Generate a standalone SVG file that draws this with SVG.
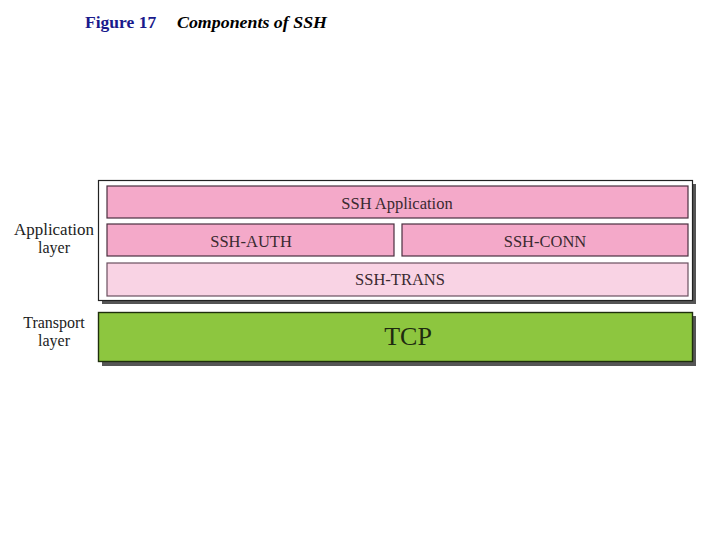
<svg xmlns="http://www.w3.org/2000/svg" width="720" height="540" viewBox="0 0 720 540">
<style>
.lbl{font-family:"Liberation Serif","Times New Roman",serif;font-size:16px;fill:#222;text-anchor:middle}
.pk{fill:#f4a9c9;stroke:#4a3040;stroke-width:1.2}
.lp{fill:#f9d3e4;stroke:#6a5060;stroke-width:1.2}
.sh{fill:#555}
.in{font-family:"Liberation Serif","Times New Roman",serif;font-size:16.5px;fill:#3a2a30;text-anchor:middle}
</style>
<rect width="720" height="540" fill="#fff"/>
<g id="title">
<text x="85" y="28" font-family="Liberation Serif,Times New Roman,serif" font-size="17.5" font-weight="bold" fill="#1a1a8c">Figure 17</text>
<text x="177" y="28" font-family="Liberation Serif,Times New Roman,serif" font-size="17.5" font-weight="bold" font-style="italic" fill="#000" textLength="150" lengthAdjust="spacingAndGlyphs">Components of SSH</text>
</g>
<g id="labels">
<text class="lbl" x="54" y="235" textLength="80" lengthAdjust="spacingAndGlyphs">Application</text>
<text class="lbl" x="54" y="253">layer</text>
<text class="lbl" x="54" y="328">Transport</text>
<text class="lbl" x="54" y="346">layer</text>
</g>
<g id="app-layer">
<rect class="sh" x="102" y="184" width="594" height="120"/>
<rect x="98.5" y="180.5" width="594" height="120" fill="#fff" stroke="#222" stroke-width="1.2"/>
</g>
<g id="ssh-application">
<rect class="pk" x="107" y="186" width="581" height="32"/>
<text class="in" x="397" y="209">SSH Application</text>
</g>
<g id="ssh-auth">
<rect class="pk" x="107" y="224" width="287" height="32"/>
<text class="in" x="251" y="247">SSH-AUTH</text>
</g>
<g id="ssh-conn">
<rect class="pk" x="402" y="224" width="286" height="32"/>
<text class="in" x="545" y="247">SSH-CONN</text>
</g>
<g id="ssh-trans">
<rect class="lp" x="107" y="263" width="581" height="33"/>
<text class="in" x="400" y="285">SSH-TRANS</text>
</g>
<g id="tcp">
<rect class="sh" x="102" y="316" width="594" height="50"/>
<rect x="98.5" y="312.5" width="594" height="49" fill="#8dc63f" stroke="#1e2e0c" stroke-width="1.4"/>
<text x="408" y="345" font-family="Liberation Serif,Times New Roman,serif" font-size="26" fill="#1e2a10" text-anchor="middle">TCP</text>
</g>
<g id="connectors"></g>
</svg>
